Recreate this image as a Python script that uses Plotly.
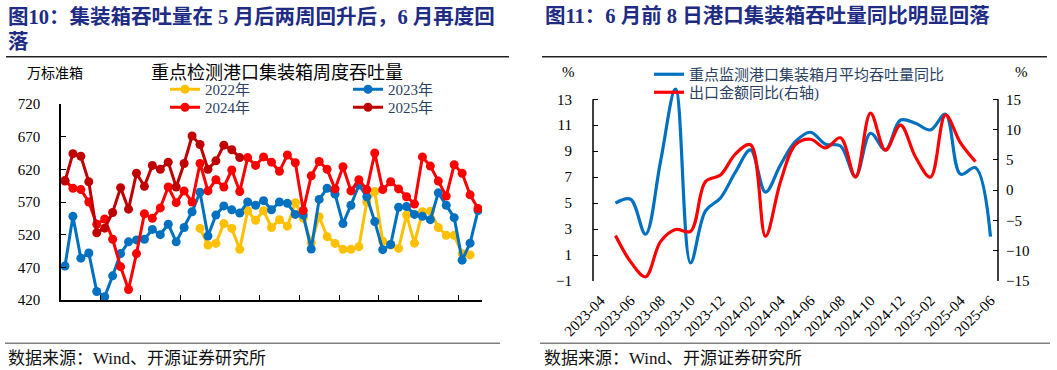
import plotly.graph_objects as go

W, H = 1057, 370

# ---------------- Left chart data (weekly, 53 weeks) ----------------
weeks = list(range(1, 54))
y2022 = [None] * 17 + [529.6, 504, 506.6, 537, 529.6, 497.5, 556.6, 542, 556.6, 531, 543, 533,
                       569, 545, 507.7, 547.4, 517, 506.6, 497.5, 497.5, 501.6, 570, 586, 510,
                       504, 499, 550, 507, 555, 556, 531, 519, 519, 491, 489, None]
y2023 = [472, 548, 484, 492, 433, 425, 457, 491, 509, 512, 513, 528, 520, 536, 509, 531, 555, 585,
         518, 550, 564, 558, 553, 570, 565, 572, 558, 570, 568, 551, 550, 498, 574, 591, 582, 537,
         565, 596, 578, 540, 497, 505, 562, 563, 551, 548, 543, 584, 565, 546, 481, 507, 557]
y2024 = [603, 591, 589, 570, 536, 544, 513, 471, 436, 491, 552, 545, 561, 593, 569, 587, 570, 629,
         587, 604, 593, 619, 586, 638, 626, 639, 631, 617, 642, 630, 557, 610, 632, 620, 590, 624,
         587, 604, 589, 645, 589, 601, 590, 578, 567, 639, 625, 602, 579, 627, 614, 581, 560]
y2025 = [602, 644, 640, 601, 523, 530, 554, 592, 559, 614, 594, 626, 620, 631, 593, 629, 671, 658,
         620, 633, 657, 650, 638] + [None] * 30
month_ticks = [1, 6, 10, 14, 18, 23, 27, 32, 36, 40, 45, 49]
month_labels = ["M1", "M2", "M3", "M4", "M5", "M6", "M7", "M8", "M9", "M10", "M11", "M12"]
week_tick_marks = [5.5, 10.5, 15.5, 20.5, 25.5, 30.5, 35.5, 40.5, 45.5, 50.5]
left_y_ticks = [420, 470, 520, 570, 620, 670, 720]

# ---------------- Right chart data (monthly) ----------------
months = ["2023-04", "2023-05", "2023-06", "2023-07", "2023-08", "2023-09", "2023-10", "2023-11",
          "2023-12", "2024-01", "2024-02", "2024-03", "2024-04", "2024-05", "2024-06", "2024-07",
          "2024-08", "2024-09", "2024-10", "2024-11", "2024-12", "2025-01", "2025-02", "2025-03",
          "2025-04", "2025-05", "2025-06"]
port_yoy = [None, 5.0, 5.3, 2.6, 8.2, 13.8, 0.4, 4.4, 5.4, 7.4, 9.1, 5.85, 7.95, 9.75, 10.46,
            9.54, 9.4, 7.05, 10.38, 9.1, 11.4, 11.15, 10.64, 11.85, 7.23, 7.73, 2.42]
export_yoy = [None, -7.5, -11.8, -14.3, -8.5, -6.5, -6.8, 1.4, 2.5, 6.0, 7.5, -7.6, 1.4, 7.5, 8.4,
              6.97, 8.64, 2.16, 12.7, 6.6, 10.74, 5.48, 2.16, 12.4, 7.8, 4.7, None]
left_ticks_r = [-1, 1, 3, 5, 7, 9, 11, 13]
right_ticks_r = [-15, -10, -5, 0, 5, 10, 15]

SERIF = "Liberation Serif, Noto Sans CJK SC"
CJK = "Liberation Serif, Noto Sans CJK SC"
NAVY = "#202C84"


def px(x):
    return x / W


def py(y):
    return 1 - y / H


fig = go.Figure()

series = [("2022年", y2022, "#FFC000", "legend"), ("2023年", y2023, "#0070C0", "legend"),
          ("2024年", y2024, "#FF0000", "legend3"), ("2025年", y2025, "#C00000", "legend3")]
for name, vals, col, lg in series:
    fig.add_trace(go.Scatter(x=weeks, y=vals, name=name, mode="lines+markers",
                             line=dict(color=col, width=3), marker=dict(color=col, size=9),
                             xaxis="x", yaxis="y", legend=lg, connectgaps=False))

fig.add_trace(go.Scatter(x=list(range(len(months))), y=port_yoy, name="重点监测港口集装箱月平均吞吐量同比",
                         mode="lines", line=dict(color="#0070C0", width=3.2, shape="spline", smoothing=1),
                         xaxis="x3", yaxis="y3", legend="legend2"))
fig.add_trace(go.Scatter(x=list(range(len(months))), y=export_yoy, name="出口金额同比(右轴)",
                         mode="lines", line=dict(color="#FF0000", width=3.2, shape="spline", smoothing=1),
                         xaxis="x3", yaxis="y4", legend="legend4"))

LDOM_X = [px(61), px(482)]
LDOM_Y = [py(300), py(104)]
RDOM_X = [px(593), px(998)]
r_lo, r_hi = -1, 13.9
RDOM_Y = [py(281), py(281 - (r_hi - r_lo) * 12.98)]
r2_lo, r2_hi = -15, (r_hi - 6) * 30 / 14

tickfont = dict(family=SERIF, size=15, color="#000")

legend_common = dict(orientation="h", xanchor="left", yanchor="top", entrywidth=138,
                     entrywidthmode="pixels", font=dict(family=SERIF, size=15),
                     bgcolor="rgba(0,0,0,0)", tracegroupgap=0, itemwidth=30)
legend_right = dict(orientation="v", xanchor="left", yanchor="top",
                    font=dict(family=CJK, size=15), bgcolor="rgba(0,0,0,0)", tracegroupgap=0,
                    itemwidth=30)

fig.update_layout(
    width=W, height=H, margin=dict(l=0, r=0, t=0, b=0, autoexpand=False),
    paper_bgcolor="white", plot_bgcolor="white",
    showlegend=True,
    xaxis=dict(domain=LDOM_X, range=[0.5, 53.5], anchor="y", tickmode="array",
               tickvals=week_tick_marks, ticktext=[""] * len(week_tick_marks),
               ticks="inside", ticklen=5, tickcolor="#000", showline=True, linecolor="#000",
               linewidth=1.5, showgrid=False, zeroline=False),
    xaxis2=dict(overlaying="x", anchor="y", side="bottom", range=[0.5, 53.5], tickmode="array",
                tickvals=month_ticks, ticktext=month_labels, ticks="", showline=False,
                showgrid=False, zeroline=False, tickfont=tickfont, ticklabelstandoff=8),
    yaxis=dict(domain=LDOM_Y, range=[420, 720], anchor="x", tickmode="array",
               tickvals=left_y_ticks, ticks="inside", ticklen=5, tickcolor="#000",
               showline=True, linecolor="#000", linewidth=1.5, showgrid=False, zeroline=False,
               tickfont=tickfont, ticklabelstandoff=16),
    xaxis3=dict(domain=RDOM_X, range=[-0.5, 26.5], anchor="y3", tickmode="array",
                tickvals=list(range(0, 27, 2)), ticktext=months[::2], tickangle=-45,
                ticks="", showline=False, showgrid=False, zeroline=False, tickfont=tickfont,
                ticklabelstandoff=7),
    xaxis4=dict(overlaying="x3", anchor="free", position=py(268.0), range=[-0.5, 26.5],
                tickmode="array", tickvals=[i + 1.5 for i in range(0, 26, 2)],
                ticktext=[""] * 13, ticks="outside", ticklen=5, tickcolor="#000",
                showline=True, linecolor="#000", linewidth=1.5, showgrid=False, zeroline=False),
    yaxis3=dict(domain=RDOM_Y, range=[r_lo, r_hi], anchor="x3", tickmode="array",
                tickvals=left_ticks_r, ticks="inside", ticklen=5, tickcolor="#000",
                showline=False, showgrid=False, zeroline=False, tickfont=tickfont,
                ticklabelstandoff=20),
    yaxis4=dict(overlaying="y3", anchor="x3", side="right", range=[r2_lo, r2_hi],
                tickmode="array", tickvals=right_ticks_r, ticks="inside", ticklen=5,
                tickcolor="#000", showline=False, showgrid=False, zeroline=False,
                tickfont=tickfont, ticklabelstandoff=7),
    legend=dict(x=px(165), y=py(73), **legend_common),
    legend3=dict(x=px(165), y=py(91), **legend_common),
    legend2=dict(x=px(649), y=py(58), **legend_right),
    legend4=dict(x=px(649), y=py(76), **legend_right),
)

shapes = [
    # right chart axis lines (only up to 13 / 15)
    dict(type="line", xref="x3 domain", yref="y3", x0=0, x1=0, y0=-1, y1=13,
         line=dict(color="#000", width=1.5)),
    dict(type="line", xref="x3 domain", yref="y3", x0=1, x1=1, y0=-1, y1=13,
         line=dict(color="#000", width=1.5)),
    # header / footer rules
    dict(type="line", xref="paper", yref="paper", x0=px(6), x1=px(509), y0=py(56.7), y1=py(56.7),
         line=dict(color="#222", width=1.5)),
    dict(type="line", xref="paper", yref="paper", x0=px(542), x1=px(1047), y0=py(56.7), y1=py(56.7),
         line=dict(color="#222", width=1.5)),
    dict(type="line", xref="paper", yref="paper", x0=px(5), x1=px(500), y0=py(343.3), y1=py(343.3),
         line=dict(color="#808080", width=1.5)),
    dict(type="line", xref="paper", yref="paper", x0=px(540), x1=px(1050), y0=py(343.3), y1=py(343.3),
         line=dict(color="#808080", width=1.5)),
]
fig.update_layout(shapes=shapes)

ann = []


def text(x, y, s, size, xanchor="left", color="#000", family=CJK):
    ann.append(dict(x=px(x), y=py(y), xref="paper", yref="paper", text=s, showarrow=False,
                    xanchor=xanchor, yanchor="middle", font=dict(family=family, size=size, color=color)))


text(6, 17, "<b>图10：集装箱吞吐量在 5 月后两周回升后，6 月再度回</b>", 20.5, color=NAVY)
text(6, 42, "<b>落</b>", 20.5, color=NAVY)
text(543, 16, "<b>图11：6 月前 8 日港口集装箱吞吐量同比明显回落</b>", 20.5, color=NAVY)
text(277, 73, "重点检测港口集装箱周度吞吐量", 18, xanchor="center")
text(55, 74, "万标准箱", 14, xanchor="center")
text(568, 72, "%", 15, xanchor="center", family=SERIF)
text(1021, 72, "%", 15, xanchor="center", family=SERIF)
text(6, 358, "数据来源：Wind、开源证券研究所", 17, color="#111")
text(542, 358, "数据来源：Wind、开源证券研究所", 17, color="#111")
fig.update_layout(annotations=ann)

fig.write_html("out.html", config={"displayModeBar": False},
               post_script="document.body.style.margin='0px';document.body.style.overflow='hidden';")
